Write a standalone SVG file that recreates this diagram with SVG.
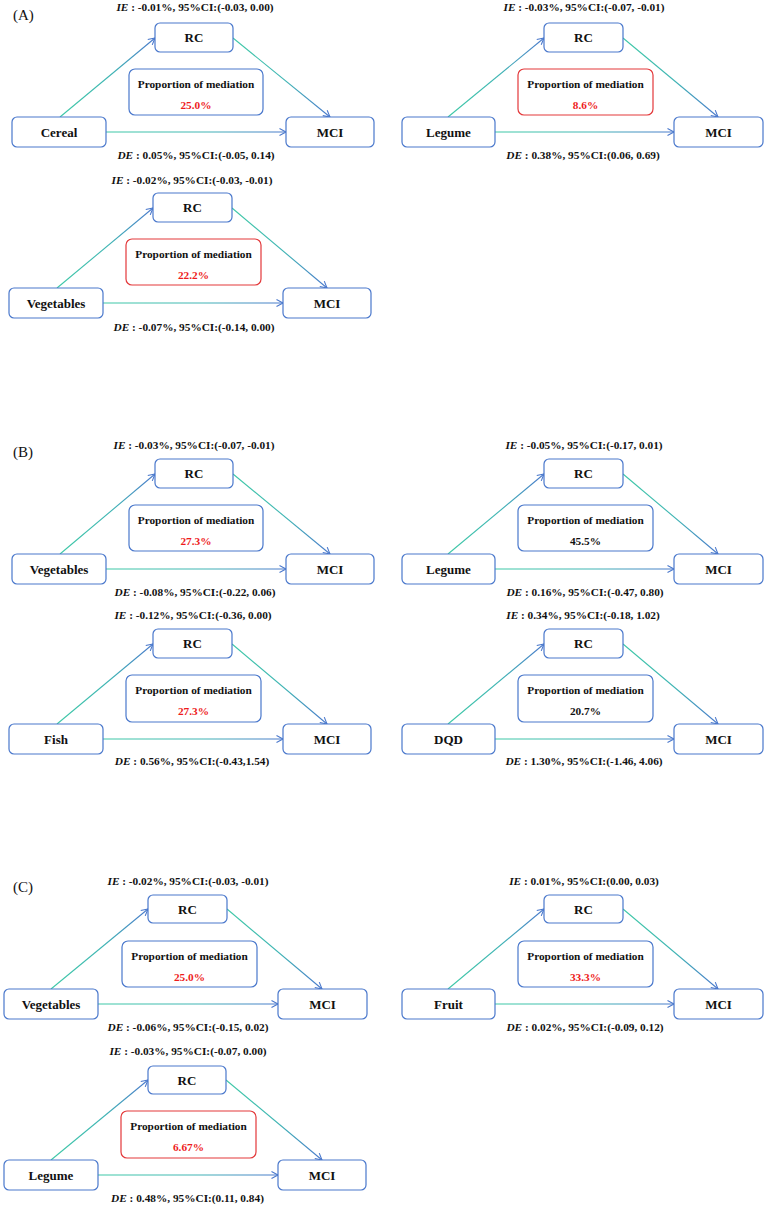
<svg xmlns="http://www.w3.org/2000/svg" width="767" height="1207" viewBox="0 0 767 1207">
<style>
text{font-family:"Liberation Serif","Times New Roman",serif;font-weight:bold;fill:#111;text-anchor:middle}
.lab{font-size:15px;font-weight:normal;text-anchor:start}
.nd{font-size:13px}
.sm{font-size:11.3px}
.it{font-style:italic}
.red{fill:#ee1c1c}
.box{fill:#fff;stroke:#4a78cc;stroke-width:1.2}
.rbox{fill:#fff;stroke:#e3383a;stroke-width:1.2}
.ln{fill:none;stroke:url(#g);stroke-width:1.1;marker-end:url(#ah)}
</style>
<defs>
<linearGradient id="g" x1="0" y1="0" x2="1" y2="0">
<stop offset="0" stop-color="#3ec9a6"/>
<stop offset="0.55" stop-color="#3fb4b4"/>
<stop offset="1" stop-color="#4a78cc"/>
</linearGradient>
<marker id="ah" markerUnits="userSpaceOnUse" markerWidth="9" markerHeight="9" refX="7" refY="4" orient="auto" overflow="visible">
<path d="M0.5,0.5 L7,4 L0.5,7.5" fill="none" stroke="#4a78cc" stroke-width="1.1"/>
</marker>
</defs>
<rect width="767" height="1207" fill="#fff"/>

<text class="lab" x="13" y="20">(A)</text>
<text class="lab" x="13" y="457">(B)</text>
<text class="lab" x="13" y="892">(C)</text>

<g id="connectors">
<!-- A1 -->
<path class="ln" d="M60,117 L155,38"/>
<path class="ln" d="M233,38 L330,117"/>
<path class="ln" d="M106,132 L286,132.01"/>
<!-- A2 -->
<path class="ln" d="M448,117 L544,38"/>
<path class="ln" d="M623,38 L718,117"/>
<path class="ln" d="M495,132 L674,132.01"/>
<!-- A3 -->
<path class="ln" d="M57,288 L153,208"/>
<path class="ln" d="M232,208 L327,288"/>
<path class="ln" d="M103,303 L283,303.01"/>
<!-- B1 -->
<path class="ln" d="M60,554 L155,474"/>
<path class="ln" d="M233,474 L330,554"/>
<path class="ln" d="M106,569 L286,569.01"/>
<!-- B2 -->
<path class="ln" d="M448,554 L544,474"/>
<path class="ln" d="M623,474 L718,554"/>
<path class="ln" d="M495,569 L674,569.01"/>
<!-- B3 -->
<path class="ln" d="M57,724 L153,644"/>
<path class="ln" d="M232,644 L327,724"/>
<path class="ln" d="M103,739 L283,739.01"/>
<!-- B4 -->
<path class="ln" d="M448,724 L544,644"/>
<path class="ln" d="M623,644 L718,724"/>
<path class="ln" d="M495,739 L674,739.01"/>
<!-- C1 -->
<path class="ln" d="M51,989 L148,909"/>
<path class="ln" d="M227,909 L322,989"/>
<path class="ln" d="M98,1004 L278,1004.01"/>
<!-- C2 -->
<path class="ln" d="M448,989 L544,909"/>
<path class="ln" d="M623,909 L718,989"/>
<path class="ln" d="M495,1004 L674,1004.01"/>
<!-- C3 -->
<path class="ln" d="M51,1160 L148,1080"/>
<path class="ln" d="M226,1080 L322,1160"/>
<path class="ln" d="M98,1175 L278,1175.01"/>
</g>

<!-- ===== A1 ===== -->
<g id="a1-ie"><text class="sm" x="195" y="11"><tspan class="it">IE</tspan> : -0.01%, 95%CI:(-0.03, 0.00)</text></g>
<g id="a1-rc"><rect class="box" x="155" y="23" width="78" height="29" rx="5"/><text class="nd" x="194" y="42">RC</text></g>
<g id="a1-prop"><rect class="box" x="129" y="69" width="134" height="46" rx="6"/><text class="sm" x="196" y="88">Proportion of mediation</text><text class="sm red" x="196" y="109">25.0%</text></g>
<g id="a1-src"><rect class="box" x="12" y="117" width="94" height="30" rx="5"/><text class="nd" x="59" y="136.5">Cereal</text></g>
<g id="a1-mci"><rect class="box" x="286" y="117" width="88" height="30" rx="5"/><text class="nd" x="330" y="136.5">MCI</text></g>
<g id="a1-de"><text class="sm" x="196" y="159"><tspan class="it">DE</tspan> : 0.05%, 95%CI:(-0.05, 0.14)</text></g>

<!-- ===== A2 ===== -->
<g id="a2-ie"><text class="sm" x="584" y="11"><tspan class="it">IE</tspan> : -0.03%, 95%CI:(-0.07, -0.01)</text></g>
<g id="a2-rc"><rect class="box" x="544" y="23" width="79" height="29" rx="5"/><text class="nd" x="583.5" y="42">RC</text></g>
<g id="a2-prop"><rect class="rbox" x="518" y="69" width="135" height="46" rx="6"/><text class="sm" x="585.5" y="88">Proportion of mediation</text><text class="sm red" x="585.5" y="109">8.6%</text></g>
<g id="a2-src"><rect class="box" x="402" y="117" width="93" height="30" rx="5"/><text class="nd" x="448.5" y="136.5">Legume</text></g>
<g id="a2-mci"><rect class="box" x="674" y="117" width="89" height="30" rx="5"/><text class="nd" x="718.5" y="136.5">MCI</text></g>
<g id="a2-de"><text class="sm" x="583" y="159"><tspan class="it">DE</tspan> : 0.38%, 95%CI:(0.06, 0.69)</text></g>

<!-- ===== A3 ===== -->
<g id="a3-ie"><text class="sm" x="192" y="184"><tspan class="it">IE</tspan> : -0.02%, 95%CI:(-0.03, -0.01)</text></g>
<g id="a3-rc"><rect class="box" x="153" y="193" width="79" height="29" rx="5"/><text class="nd" x="192.5" y="212">RC</text></g>
<g id="a3-prop"><rect class="rbox" x="126" y="239" width="135" height="46" rx="6"/><text class="sm" x="193.5" y="258">Proportion of mediation</text><text class="sm red" x="193.5" y="279">22.2%</text></g>
<g id="a3-src"><rect class="box" x="9" y="288" width="94" height="30" rx="5"/><text class="nd" x="56" y="307.5">Vegetables</text></g>
<g id="a3-mci"><rect class="box" x="283" y="288" width="88" height="30" rx="5"/><text class="nd" x="327" y="307.5">MCI</text></g>
<g id="a3-de"><text class="sm" x="194" y="331"><tspan class="it">DE</tspan> : -0.07%, 95%CI:(-0.14, 0.00)</text></g>

<!-- ===== B1 ===== -->
<g id="b1-ie"><text class="sm" x="194" y="449"><tspan class="it">IE</tspan> : -0.03%, 95%CI:(-0.07, -0.01)</text></g>
<g id="b1-rc"><rect class="box" x="155" y="459" width="78" height="29" rx="5"/><text class="nd" x="194" y="478">RC</text></g>
<g id="b1-prop"><rect class="box" x="129" y="505" width="134" height="46" rx="6"/><text class="sm" x="196" y="524">Proportion of mediation</text><text class="sm red" x="196" y="545">27.3%</text></g>
<g id="b1-src"><rect class="box" x="12" y="554" width="94" height="30" rx="5"/><text class="nd" x="59" y="573.5">Vegetables</text></g>
<g id="b1-mci"><rect class="box" x="286" y="554" width="88" height="30" rx="5"/><text class="nd" x="330" y="573.5">MCI</text></g>
<g id="b1-de"><text class="sm" x="195" y="596"><tspan class="it">DE</tspan> : -0.08%, 95%CI:(-0.22, 0.06)</text></g>

<!-- ===== B2 ===== -->
<g id="b2-ie"><text class="sm" x="584" y="449"><tspan class="it">IE</tspan> : -0.05%, 95%CI:(-0.17, 0.01)</text></g>
<g id="b2-rc"><rect class="box" x="544" y="459" width="79" height="29" rx="5"/><text class="nd" x="583.5" y="478">RC</text></g>
<g id="b2-prop"><rect class="box" x="518" y="505" width="135" height="46" rx="6"/><text class="sm" x="585.5" y="524">Proportion of mediation</text><text class="sm" x="585.5" y="545">45.5%</text></g>
<g id="b2-src"><rect class="box" x="402" y="554" width="93" height="30" rx="5"/><text class="nd" x="448.5" y="573.5">Legume</text></g>
<g id="b2-mci"><rect class="box" x="674" y="554" width="89" height="30" rx="5"/><text class="nd" x="718.5" y="573.5">MCI</text></g>
<g id="b2-de"><text class="sm" x="585" y="596"><tspan class="it">DE</tspan> : 0.16%, 95%CI:(-0.47, 0.80)</text></g>

<!-- ===== B3 ===== -->
<g id="b3-ie"><text class="sm" x="193" y="619"><tspan class="it">IE</tspan> : -0.12%, 95%CI:(-0.36, 0.00)</text></g>
<g id="b3-rc"><rect class="box" x="153" y="629" width="79" height="29" rx="5"/><text class="nd" x="192.5" y="648">RC</text></g>
<g id="b3-prop"><rect class="box" x="126" y="675" width="135" height="47" rx="6"/><text class="sm" x="193.5" y="694">Proportion of mediation</text><text class="sm red" x="193.5" y="715">27.3%</text></g>
<g id="b3-src"><rect class="box" x="9" y="724" width="94" height="30" rx="5"/><text class="nd" x="56" y="743.5">Fish</text></g>
<g id="b3-mci"><rect class="box" x="283" y="724" width="88" height="30" rx="5"/><text class="nd" x="327" y="743.5">MCI</text></g>
<g id="b3-de"><text class="sm" x="192" y="765"><tspan class="it">DE</tspan> : 0.56%, 95%CI:(-0.43,1.54)</text></g>

<!-- ===== B4 ===== -->
<g id="b4-ie"><text class="sm" x="583" y="619"><tspan class="it">IE</tspan> : 0.34%, 95%CI:(-0.18, 1.02)</text></g>
<g id="b4-rc"><rect class="box" x="544" y="629" width="79" height="29" rx="5"/><text class="nd" x="583.5" y="648">RC</text></g>
<g id="b4-prop"><rect class="box" x="518" y="675" width="135" height="47" rx="6"/><text class="sm" x="585.5" y="694">Proportion of mediation</text><text class="sm" x="585.5" y="715">20.7%</text></g>
<g id="b4-src"><rect class="box" x="402" y="724" width="93" height="30" rx="5"/><text class="nd" x="448.5" y="743.5">DQD</text></g>
<g id="b4-mci"><rect class="box" x="674" y="724" width="89" height="30" rx="5"/><text class="nd" x="718.5" y="743.5">MCI</text></g>
<g id="b4-de"><text class="sm" x="584" y="765"><tspan class="it">DE</tspan> : 1.30%, 95%CI:(-1.46, 4.06)</text></g>

<!-- ===== C1 ===== -->
<g id="c1-ie"><text class="sm" x="188" y="885"><tspan class="it">IE</tspan> : -0.02%, 95%CI:(-0.03, -0.01)</text></g>
<g id="c1-rc"><rect class="box" x="148" y="895" width="79" height="28" rx="5"/><text class="nd" x="187.5" y="913.5">RC</text></g>
<g id="c1-prop"><rect class="box" x="122" y="941" width="135" height="46" rx="6"/><text class="sm" x="189.5" y="960">Proportion of mediation</text><text class="sm red" x="189.5" y="981">25.0%</text></g>
<g id="c1-src"><rect class="box" x="4" y="989" width="94" height="30" rx="5"/><text class="nd" x="51" y="1008.5">Vegetables</text></g>
<g id="c1-mci"><rect class="box" x="278" y="989" width="89" height="30" rx="5"/><text class="nd" x="322.5" y="1008.5">MCI</text></g>
<g id="c1-de"><text class="sm" x="188" y="1031"><tspan class="it">DE</tspan> : -0.06%, 95%CI:(-0.15, 0.02)</text></g>

<!-- ===== C2 ===== -->
<g id="c2-ie"><text class="sm" x="584" y="885"><tspan class="it">IE</tspan> : 0.01%, 95%CI:(0.00, 0.03)</text></g>
<g id="c2-rc"><rect class="box" x="544" y="895" width="79" height="28" rx="5"/><text class="nd" x="583.5" y="913.5">RC</text></g>
<g id="c2-prop"><rect class="box" x="518" y="941" width="135" height="46" rx="6"/><text class="sm" x="585.5" y="960">Proportion of mediation</text><text class="sm red" x="585.5" y="981">33.3%</text></g>
<g id="c2-src"><rect class="box" x="402" y="989" width="93" height="30" rx="5"/><text class="nd" x="448.5" y="1008.5">Fruit</text></g>
<g id="c2-mci"><rect class="box" x="674" y="989" width="89" height="30" rx="5"/><text class="nd" x="718.5" y="1008.5">MCI</text></g>
<g id="c2-de"><text class="sm" x="585" y="1031"><tspan class="it">DE</tspan> : 0.02%, 95%CI:(-0.09, 0.12)</text></g>

<!-- ===== C3 ===== -->
<g id="c3-ie"><text class="sm" x="188" y="1055"><tspan class="it">IE</tspan> : -0.03%, 95%CI:(-0.07, 0.00)</text></g>
<g id="c3-rc"><rect class="box" x="148" y="1066" width="78" height="28" rx="5"/><text class="nd" x="187" y="1084.5">RC</text></g>
<g id="c3-prop"><rect class="rbox" x="121" y="1111" width="135" height="47" rx="6"/><text class="sm" x="188.5" y="1130">Proportion of mediation</text><text class="sm red" x="188.5" y="1151">6.67%</text></g>
<g id="c3-src"><rect class="box" x="4" y="1160" width="94" height="30" rx="5"/><text class="nd" x="51" y="1179.5">Legume</text></g>
<g id="c3-mci"><rect class="box" x="278" y="1160" width="88" height="30" rx="5"/><text class="nd" x="322" y="1179.5">MCI</text></g>
<g id="c3-de"><text class="sm" x="187.5" y="1202"><tspan class="it">DE</tspan> : 0.48%, 95%CI:(0.11, 0.84)</text></g>
</svg>
